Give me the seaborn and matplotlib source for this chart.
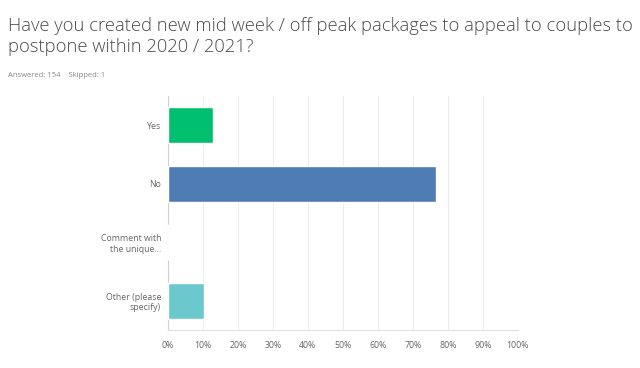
import matplotlib
matplotlib.use("Agg")
import matplotlib.pyplot as plt
import seaborn as sns
import pandas as pd
from matplotlib.ticker import PercentFormatter

# Survey answers (share of 154 respondents)
choices = ["Yes", "No", "Comment with\nthe unique...", "Other (please\nspecify)"]
shares = [12.99, 76.62, 0.0, 10.39]
bar_colors = ["#00BF6F", "#507CB6", "#E86A5F", "#6BC8CD"]
x_ticks = [0, 10, 20, 30, 40, 50, 60, 70, 80, 90, 100]

df = pd.DataFrame({"choice": choices, "share": shares})

sns.set_style("white")
plt.rcParams['font.family'] = ['Open Sans', 'DejaVu Sans']

fig = plt.figure(figsize=(6.4, 3.68), dpi=100)
ax = fig.add_axes([0.2625, 0.103, 0.5465, 0.636])

sns.barplot(data=df, x="share", y="choice", hue="choice", palette=bar_colors,
            saturation=1, legend=False, width=0.62, ax=ax, zorder=3)

ax.set_xlim(0, 100)
ax.set_xticks(x_ticks)
ax.xaxis.set_major_formatter(PercentFormatter(decimals=0))
ax.grid(axis="x", color="#EDEDED", linewidth=0.8, zorder=0)
ax.set_xlabel("")
ax.set_ylabel("")
ax.tick_params(axis="both", length=0, labelsize=6.3, labelcolor="#666666")
ax.tick_params(axis="x", pad=8)
ax.tick_params(axis="y", pad=5)
for lbl in ax.get_yticklabels():
    lbl.set_horizontalalignment("right")
for side in ["top", "right"]:
    ax.spines[side].set_visible(False)
ax.spines["left"].set_color("#D0D0D0")
ax.spines["bottom"].set_color("#E0E0E0")

fig.text(0.0125, 0.955, "Have you created new mid week / off peak packages to appeal to couples to\npostpone within 2020 / 2021?",
         fontsize=13.2, color="#4A4A4A", va="top", ha="left", linespacing=1.25, fontweight="light")
fig.text(0.0125, 0.795, "Answered: 154    Skipped: 1", fontsize=5.5, color="#888888", va="center", ha="left")

fig.savefig("out.png", dpi=100)
